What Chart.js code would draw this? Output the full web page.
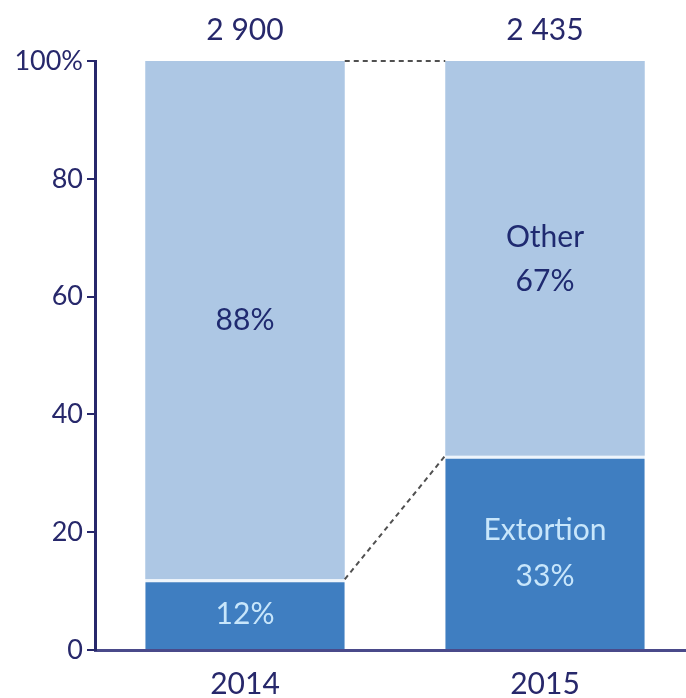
<!DOCTYPE html>
<html>
<head>
<meta charset="utf-8">
<script src="https://cdn.jsdelivr.net/npm/chart.js@4"></script>
<style>
  html, body { margin: 0; padding: 0; background: #fff; overflow: hidden; }
  #wrap { width: 696px; height: 698px; }
</style>
</head>
<body>
<div id="wrap"><canvas id="c"></canvas></div>
<script>
// 100% stacked bars: extortion vs other
const years = ['2014', '2015'];
const extortion = [12, 33];
const other = [88, 67];
const totals = ['2 900', '2 435'];
const yTicks = [0, 20, 40, 60, 80, 100];

const navy = '#27286b';
const font = 'Lato, "Open Sans", sans-serif';

// dashed connectors + labels inside segments + totals on top
const overlay = {
  id: 'overlay',
  afterDatasetsDraw(chart) {
    const ctx = chart.ctx;
    const x = chart.scales.x, y = chart.scales.y;
    const m0 = chart.getDatasetMeta(0).data;
    ctx.save();
    // connectors
    ctx.strokeStyle = '#505050';
    ctx.lineWidth = 2;
    ctx.setLineDash([5, 4]);
    const r0 = m0[0].x + m0[0].width / 2, l1 = m0[1].x - m0[1].width / 2;
    ctx.beginPath();
    ctx.moveTo(r0, y.getPixelForValue(100));
    ctx.lineTo(l1, y.getPixelForValue(100));
    ctx.moveTo(r0, y.getPixelForValue(extortion[0]));
    ctx.lineTo(l1, y.getPixelForValue(extortion[1]));
    ctx.stroke();
    ctx.setLineDash([]);

    ctx.textAlign = 'center';
    ctx.textBaseline = 'middle';
    ctx.font = '30px ' + font;
    years.forEach((yr, i) => {
      const cx = x.getPixelForValue(i);
      // totals
      ctx.fillStyle = navy;
      ctx.fillText(totals[i], cx, 30);
      // extortion label
      const ey = y.getPixelForValue(extortion[i] / 2);
      ctx.fillStyle = '#c8e6fb';
      if (i === 1) {
        ctx.fillText('Extortion', cx, ey - 22);
        ctx.fillText(extortion[i] + '%', cx, ey + 24);
      } else {
        ctx.fillText(extortion[i] + '%', cx, ey);
      }
      // other label
      const oy = y.getPixelForValue(extortion[i] + other[i] / 2);
      ctx.fillStyle = '#1f2a70';
      if (i === 1) {
        ctx.fillText('Other', cx, oy - 21);
        ctx.fillText(other[i] + '%', cx, oy + 23);
      } else {
        ctx.fillText(other[i] + '%', cx, oy);
      }
    });
    ctx.restore();
  }
};

new Chart(document.getElementById('c'), {
  type: 'bar',
  data: {
    labels: years,
    datasets: [
      { label: 'Extortion', data: extortion, backgroundColor: '#3f7ec1',
        borderColor: '#eef5fc', borderWidth: { top: 3, left: 0, right: 0, bottom: 0 }, borderSkipped: false },
      { label: 'Other', data: other, backgroundColor: '#adc7e4', borderWidth: 0 }
    ]
  },
  options: {
    responsive: true,
    maintainAspectRatio: false,
    animation: false,
    layout: { padding: { top: 61, left: 0, right: 1, bottom: 0 } },
    plugins: { legend: { display: false }, tooltip: { enabled: false } },
    datasets: { bar: { categoryPercentage: 1, barPercentage: 0.665 } },
    scales: {
      x: {
        stacked: true,
        grid: { display: false },
        border: { display: true, color: '#4a4a8a', width: 3 },
        ticks: { color: navy, font: { family: font, size: 30 }, padding: 8 },
        afterFit: s => { s.height = 48; }
      },
      y: {
        stacked: true,
        min: 0, max: 100,
        afterBuildTicks: s => { s.ticks = yTicks.map(v => ({ value: v })); },
        grid: { display: true, drawOnChartArea: false, drawTicks: true, tickLength: 8, color: navy, lineWidth: 2 },
        border: { display: true, color: navy, width: 3 },
        ticks: {
          color: navy, padding: 4,
          font: { family: font, size: 27 },
          callback: v => v === 100 ? '100%' : v
        },
        afterFit: s => { s.width = 95; }
      }
    }
  },
  plugins: [overlay]
});
</script>
</body>
</html>
